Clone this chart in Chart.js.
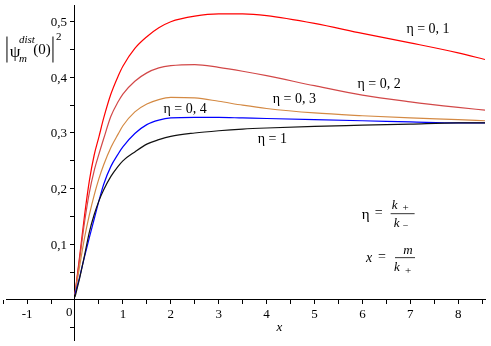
<!DOCTYPE html>
<html>
<head>
<meta charset="utf-8">
<script src="https://cdn.jsdelivr.net/npm/chart.js@4/dist/chart.umd.min.js"></script>
<style>
  html, body { margin: 0; padding: 0; background: #fff; }
  #chart { display: block; }
</style>
</head>
<body>
<canvas id="chart" width="491" height="346"></canvas>
<script>
// x values of the sampled curves
const xs = [0, 0.1, 0.2, 0.3, 0.4, 0.5, 0.6, 0.75, 0.9, 1, 1.25, 1.5, 1.75, 2, 2.5, 3, 3.5, 4, 5, 6, 7, 8, 8.56];

// |psi|^2 for each eta
const eta01 = [0.01, 0.08, 0.152, 0.214, 0.26, 0.293, 0.327, 0.37, 0.402, 0.42, 0.452, 0.473, 0.489, 0.5, 0.51, 0.514, 0.514, 0.511, 0.497, 0.479, 0.462, 0.444, 0.432];
const eta02 = [0.01, 0.075, 0.14, 0.193, 0.232, 0.262, 0.29, 0.33, 0.356, 0.37, 0.393, 0.408, 0.417, 0.421, 0.423, 0.418, 0.411, 0.403, 0.385, 0.368, 0.356, 0.346, 0.341];
const eta03 = [0.01, 0.062, 0.112, 0.153, 0.188, 0.218, 0.243, 0.274, 0.298, 0.313, 0.338, 0.352, 0.36, 0.364, 0.363, 0.357, 0.35, 0.344, 0.336, 0.331, 0.327, 0.324, 0.322];
const eta04 = [0.01, 0.042, 0.078, 0.112, 0.145, 0.178, 0.208, 0.24, 0.262, 0.275, 0.299, 0.315, 0.323, 0.327, 0.328, 0.328, 0.327, 0.326, 0.324, 0.322, 0.32, 0.318, 0.318];
const eta1  = [0.005, 0.04, 0.08, 0.122, 0.153, 0.178, 0.198, 0.222, 0.24, 0.25, 0.266, 0.28, 0.288, 0.294, 0.3, 0.304, 0.307, 0.309, 0.312, 0.314, 0.316, 0.318, 0.318];

// tick positions (minor ones get no label)
const xTicks = [-1.5, -1, -0.5, 0, 0.5, 1, 1.5, 2, 2.5, 3, 3.5, 4, 4.5, 5, 5.5, 6, 6.5, 7, 7.5, 8, 8.5];
const yTicks = [-0.05, 0, 0.05, 0.1, 0.15, 0.2, 0.25, 0.3, 0.35, 0.4, 0.45, 0.5];
const yLabelValues = [0.1, 0.2, 0.3, 0.4, 0.5];
const yLabels = ["0,1", "0,2", "0,3", "0,4", "0,5"];

const serif = "'Liberation Serif', 'DejaVu Serif', serif";

function pts(ys) {
    return xs.map((x, i) => ({ x: x, y: ys[i] }));
}

function line(label, ys, color) {
    return {
        label: label,
        data: pts(ys),
        borderColor: color,
        borderWidth: 1.2,
        pointRadius: 0,
        fill: false,
        cubicInterpolationMode: "monotone"
    };
}

// text annotations, placed with the scales
const textPlugin = {
    id: "texts",
    afterDraw(chart) {
        const ctx = chart.ctx;
        const sx = chart.scales.x, sy = chart.scales.y;
        const px = v => sx.getPixelForValue(v);
        const py = v => sy.getPixelForValue(v);

        function txt(s, x, y, size, italic, align) {
            ctx.font = (italic ? "italic " : "") + size + "px " + serif;
            ctx.textAlign = align || "center";
            ctx.textBaseline = "middle";
            ctx.fillStyle = "#000";
            ctx.fillText(s, x, y);
        }

        ctx.save();
        // y tick labels, left of the axis
        yLabelValues.forEach((v, i) => txt(yLabels[i], px(0) - 8, py(v) + 1, 13, false, "right"));

        // curve labels
        txt("η = 0, 1", px(7.37), py(0.486), 14);
        txt("η = 0, 2", px(6.35), py(0.388), 14);
        txt("η = 0, 3", px(4.58), py(0.36), 14);
        txt("η = 0, 4", px(2.3), py(0.343), 14);
        txt("η = 1", px(4.12), py(0.288), 14);

        // axis title and origin
        txt("x", px(4.27), py(-0.049), 13, true);
        txt("0", px(-0.12), py(-0.023), 13);

        // eta = k+ / k-
        let bx = px(6.84), by = py(0.155);
        txt("η", bx - 37, by + 1, 15);
        txt("=", bx - 24, by, 14);
        ctx.strokeStyle = "#000";
        ctx.lineWidth = 0.8;
        ctx.beginPath(); ctx.moveTo(bx - 12, by); ctx.lineTo(bx + 12, by); ctx.stroke();
        txt("k", bx - 8, by - 8, 13, true);
        txt("+", bx + 3, by - 6, 11);
        txt("k", bx - 6, by + 10, 13, true);
        txt("−", bx + 3, by + 13, 10);

        // x = m / k+
        bx = px(6.89); by = py(0.076);
        txt("x", bx - 36, by + 1, 14, true);
        txt("=", bx - 23, by, 14);
        ctx.beginPath(); ctx.moveTo(bx - 10, by); ctx.lineTo(bx + 10, by); ctx.stroke();
        txt("m", bx + 3, by - 7, 13, true);
        txt("k", bx - 8, by + 10, 13, true);
        txt("+", bx + 3, by + 13, 11);

        // y axis title |psi_m^dist(0)|^2
        const tx = px(-1.42), ty = py(0.45);
        ctx.lineWidth = 1;
        ctx.beginPath();
        ctx.moveTo(tx, ty - 13); ctx.lineTo(tx, ty + 13);
        ctx.moveTo(tx + 46, ty - 13); ctx.lineTo(tx + 46, ty + 13);
        ctx.stroke();
        txt("ψ", tx + 8, ty + 3, 17, false);
        txt("dist", tx + 12, ty - 9, 11, true, "left");
        txt("m", tx + 12, ty + 10, 11, true, "left");
        txt("(0)", tx + 35, ty + 1, 15);
        txt("2", tx + 49, ty - 12, 11, false, "left");
        ctx.restore();
    }
};

new Chart(document.getElementById("chart"), {
    type: "line",
    data: {
        datasets: [
            line("η = 1", eta1, "#111111"),
            line("η = 0, 4", eta04, "#0000ff"),
            line("η = 0, 3", eta03, "#d48a44"),
            line("η = 0, 2", eta02, "#d24848"),
            line("η = 0, 1", eta01, "#ff0000")
        ]
    },
    options: {
        responsive: false,
        animation: false,
        layout: { padding: { left: 6, right: 6, top: 5, bottom: 6 } },
        plugins: { legend: { display: false }, tooltip: { enabled: false } },
        scales: {
            x: {
                type: "linear",
                min: -1.44,
                max: 8.56,
                position: { y: 0 },
                afterBuildTicks: s => { s.ticks = xTicks.map(v => ({ value: v })); },
                afterFit: s => { s.paddingLeft = 0; s.paddingRight = 0; s.paddingTop = 0; s.paddingBottom = 0; },
                grid: { drawOnChartArea: false, drawTicks: true, tickLength: 4, color: "#000" },
                border: { color: "#000", width: 1 },
                ticks: {
                    autoSkip: false,
                    maxRotation: 0,
                    padding: 3,
                    color: "#000",
                    font: { family: serif, size: 13 },
                    callback: v => (Number.isInteger(v) && v !== 0) ? String(v) : ""
                }
            },
            y: {
                type: "linear",
                min: -0.072,
                max: 0.53,
                position: { x: 0 },
                afterBuildTicks: s => { s.ticks = yTicks.map(v => ({ value: v })); },
                afterFit: s => { s.paddingLeft = 0; s.paddingRight = 0; s.paddingTop = 0; s.paddingBottom = 0; },
                grid: { drawOnChartArea: false, drawTicks: true, tickLength: 4, color: "#000" },
                border: { color: "#000", width: 1 },
                ticks: { display: false }
            }
        }
    },
    plugins: [textPlugin]
});
</script>
</body>
</html>
